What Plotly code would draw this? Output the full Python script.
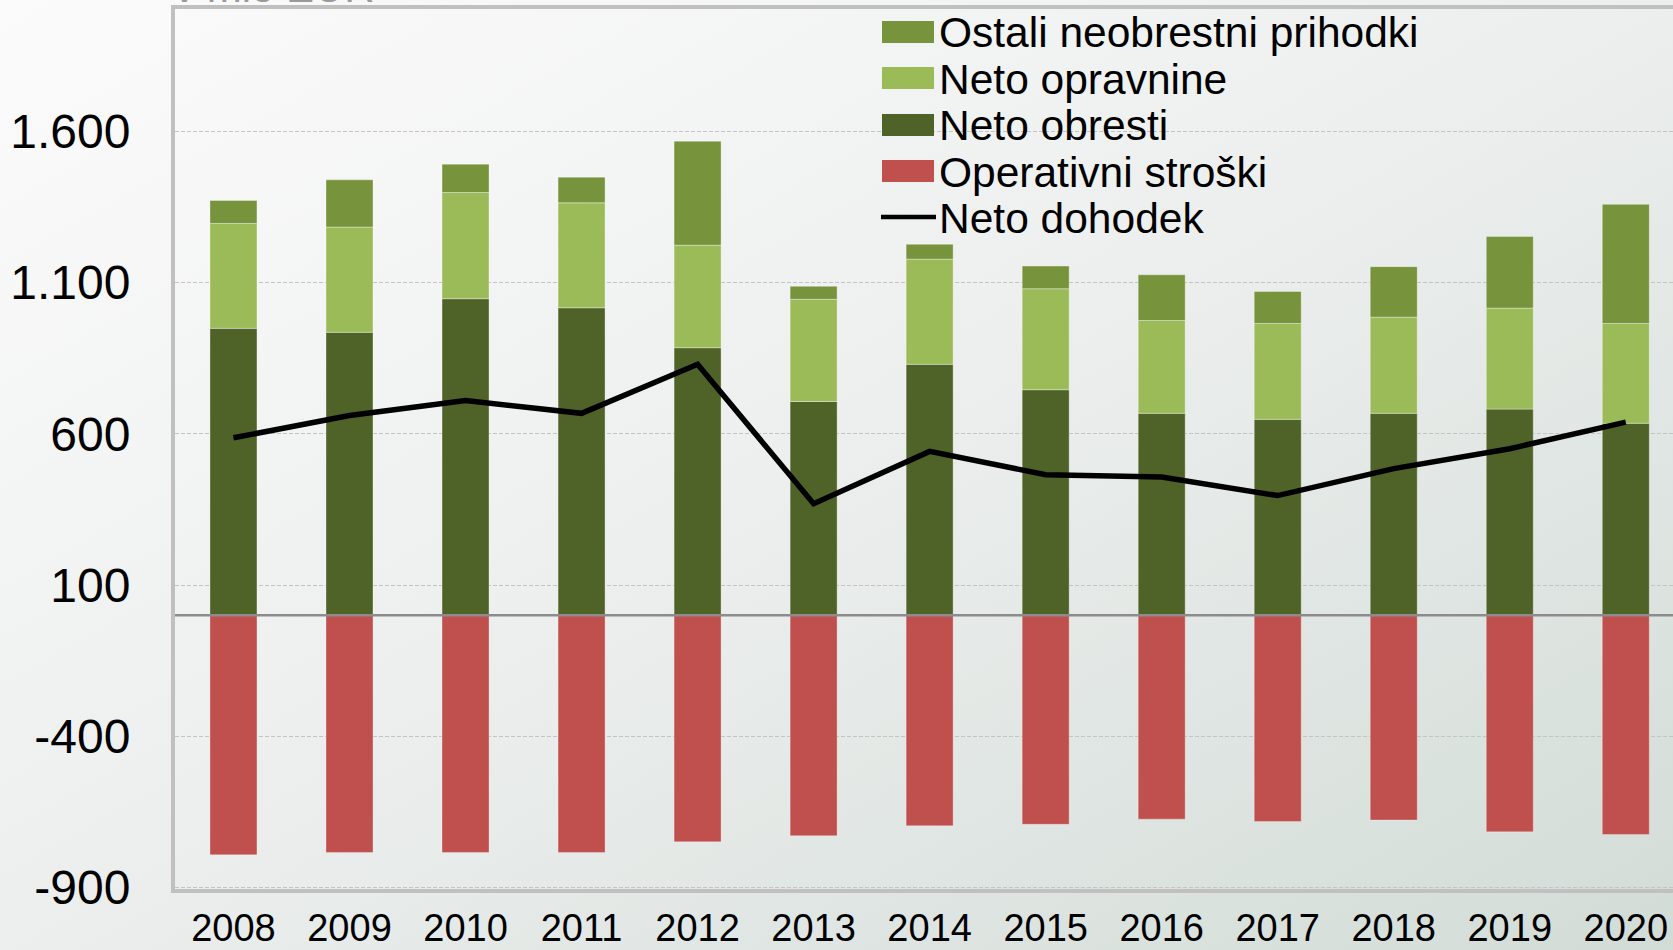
import base64
import plotly.graph_objects as go

# ---------------- data (mio EUR) ----------------
years = ["2008", "2009", "2010", "2011", "2012", "2013", "2014",
         "2015", "2016", "2017", "2018", "2019", "2020"]
neto_obresti = [949, 936, 1047, 1017, 885, 707, 830, 746, 668, 648, 668, 682, 635]
neto_opravnine = [347, 348, 351, 347, 339, 338, 348, 334, 307, 317, 318, 334, 330]
ostali_neobrestni = [76, 156, 94, 85, 344, 43, 49, 75, 151, 106, 167, 237, 394]
operativni_stroski = [-792, -784, -784, -784, -749, -729, -696, -691, -674, -682, -677, -716, -725]
neto_dohodek = [587, 661, 710, 668, 830, 369, 542, 465, 457, 396, 485, 551, 639]

y_tickvals = [-900, -400, 100, 600, 1100, 1600]
y_ticktext = ["-900", "-400", "100", "600", "1.100", "1.600"]

series_names = ["Ostali neobrestni prihodki", "Neto opravnine", "Neto obresti",
                "Operativni stroški", "Neto dohodek"]

# ---------------- style ----------------
C_DARK = "#4f6228"
C_LIGHT = "#9bbb59"
C_OLIVE = "#77933c"
C_RED = "#c0504d"
FONT = "Liberation Sans, Arial, sans-serif"

W_FIG, H_FIG = 1673, 950
L, T, B, R = 175, 9, 61, 0
PW, PH = W_FIG - L - R, H_FIG - T - B


def px(x):
    return (x - L) / PW


def py(y):
    return 1 - (y - T) / PH


fig = go.Figure()
edge = dict(color="rgba(255,255,255,0.35)", width=1)
fig.add_trace(go.Bar(x=years, y=neto_obresti, name=series_names[2],
                     marker=dict(color=C_DARK, line=edge)))
fig.add_trace(go.Bar(x=years, y=neto_opravnine, name=series_names[1],
                     marker=dict(color=C_LIGHT, line=edge)))
fig.add_trace(go.Bar(x=years, y=ostali_neobrestni, name=series_names[0],
                     marker=dict(color=C_OLIVE, line=edge)))
fig.add_trace(go.Bar(x=years, y=operativni_stroski, name=series_names[3],
                     marker=dict(color=C_RED, line=dict(color="rgba(255,255,255,0.3)", width=1))))
fig.add_trace(go.Scatter(x=years, y=neto_dohodek, name=series_names[4], mode="lines",
                         line=dict(color="black", width=5.5)))

# background gradient
svg = ('<svg xmlns="http://www.w3.org/2000/svg" width="1673" height="950" '
       'viewBox="0 0 1673 950" preserveAspectRatio="none"><defs>'
       '<linearGradient id="g" x1="0" y1="0" x2="1" y2="1">'
       '<stop offset="0" stop-color="#fbfbfb"/>'
       '<stop offset="0.45" stop-color="#eef0ef"/>'
       '<stop offset="1" stop-color="#d2dcd7"/>'
       '</linearGradient></defs>'
       '<rect width="1673" height="950" fill="url(#g)"/></svg>')
src = "data:image/svg+xml;base64," + base64.b64encode(svg.encode()).decode()
fig.add_layout_image(dict(source=src, xref="paper", yref="paper",
                          x=px(0), y=py(0), sizex=W_FIG / PW, sizey=H_FIG / PH,
                          xanchor="left", yanchor="top", sizing="stretch",
                          layer="below"))

shapes = []
annotations = []
# zero line
shapes.append(dict(type="line", xref="paper", yref="y", x0=0, x1=1, y0=0, y1=0,
                   line=dict(color="#8c8c8c", width=2.5), layer="above"))

# custom legend
leg_rows = [32, 78, 125, 171, 217]
leg_colors = [C_OLIVE, C_LIGHT, C_DARK, C_RED, None]
for name, yc, col in zip(series_names, leg_rows, leg_colors):
    if col is not None:
        shapes.append(dict(type="rect", xref="paper", yref="paper",
                           x0=px(882), x1=px(934), y0=py(yc + 11), y1=py(yc - 11),
                           fillcolor=col, line=dict(width=0), layer="above"))
    else:
        shapes.append(dict(type="line", xref="paper", yref="paper",
                           x0=px(881), x1=px(936), y0=py(yc), y1=py(yc),
                           line=dict(color="black", width=4.5), layer="above"))
    annotations.append(dict(text=name, xref="paper", yref="paper",
                            x=px(937), y=py(yc + 1), xanchor="left", yanchor="middle",
                            showarrow=False, font=dict(family=FONT, size=42.5, color="black")))

# cut-off unit label at the very top
annotations.append(dict(text="v mio EUR", xref="paper", yref="paper",
                        x=px(172), y=py(13), xanchor="left", yanchor="bottom",
                        showarrow=False, font=dict(family=FONT, size=42, color="#9a9a9a")))

fig.update_layout(
    width=W_FIG, height=H_FIG,
    margin=dict(l=L, r=R, t=T, b=B, pad=0, autoexpand=False),
    barmode="relative", bargap=0.595,
    paper_bgcolor="white", plot_bgcolor="rgba(0,0,0,0)",
    showlegend=False,
    font=dict(family=FONT, color="black"),
    shapes=shapes, annotations=annotations,
    xaxis=dict(type="category", range=[-0.504, 12.407], automargin=False,
               showline=True, linecolor="#c0c0c0", linewidth=4, mirror=True,
               showgrid=False, ticks="", tickfont=dict(size=38, color="black"),
               ticklabelstandoff=2),
    yaxis=dict(range=[-905, 2005], tickvals=y_tickvals, ticktext=y_ticktext,
               automargin=False,
               showline=True, linecolor="#c0c0c0", linewidth=4, mirror=False,
               showgrid=True, gridcolor="#c4c4c4", gridwidth=1, griddash="4px,2px",
               zeroline=False, ticks="", tickfont=dict(size=48, color="black"),
               ticklabelstandoff=31),
)

fig.write_html("out.html", config={"displayModeBar": False},
               post_script="document.body.style.margin='0';document.body.style.overflow='hidden';")
